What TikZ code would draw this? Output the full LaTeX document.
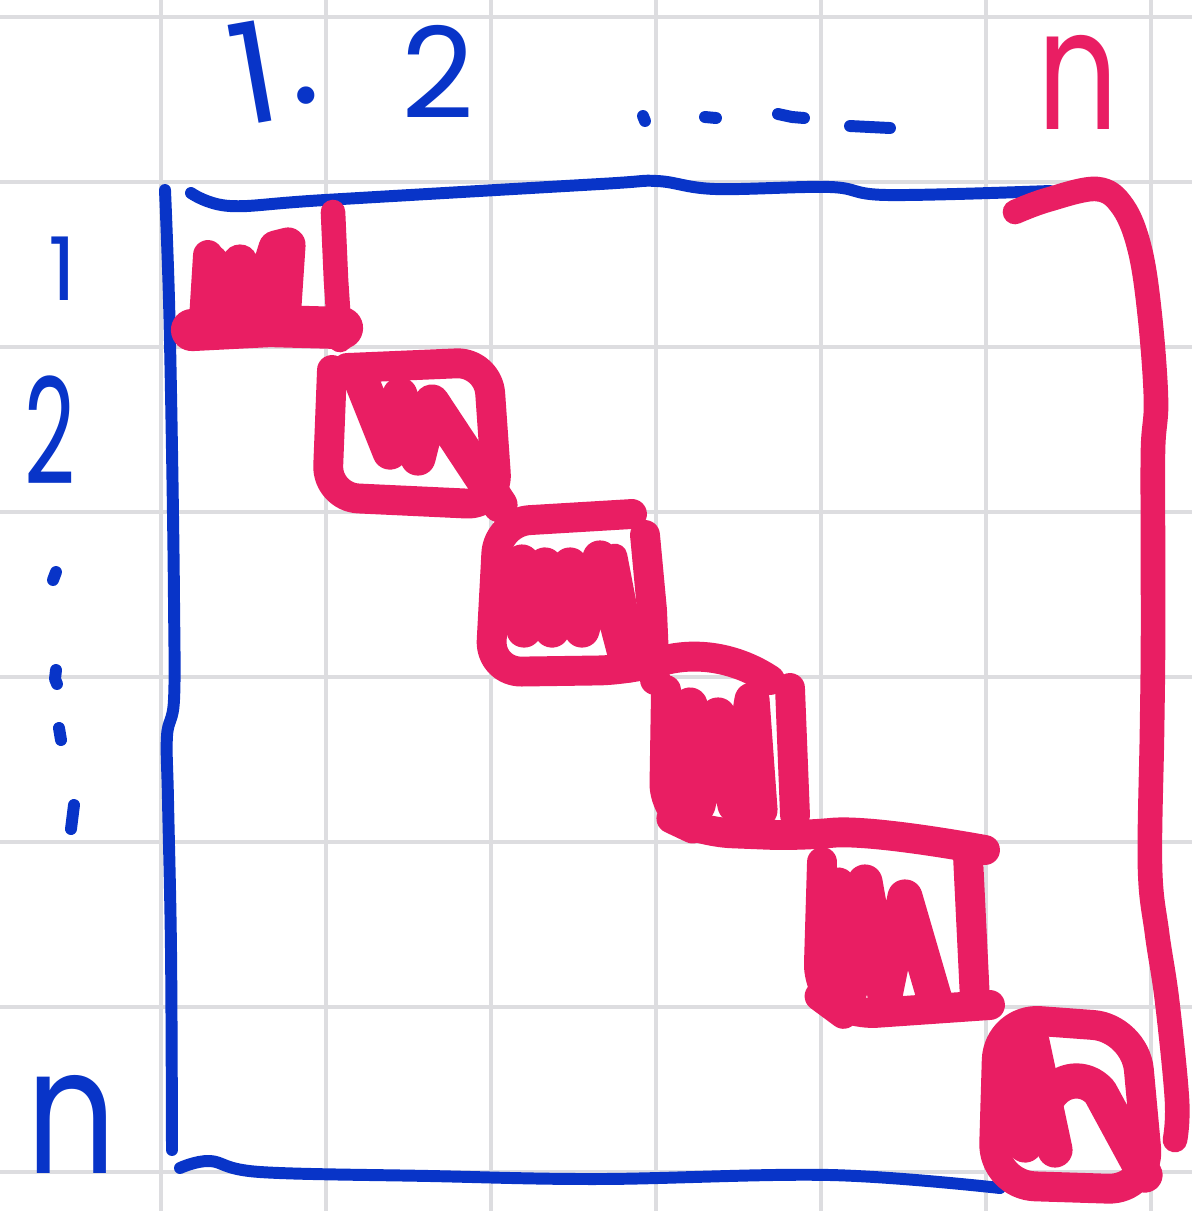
\documentclass[tikz,border=0pt]{standalone}
\usepackage{fontspec}
\setmainfont{Poppins}
\definecolor{inkblue}{RGB}{8,52,200}
\definecolor{inkpink}{RGB}{233,30,99}
\definecolor{gridgray}{RGB}{221,221,224}
\begin{document}
\begin{tikzpicture}[x=0.01cm,y=-0.01cm,
  gridline/.style={draw=gridgray,line width=0.9pt},
  blueink/.style={draw=inkblue,line width=3.4pt,line cap=round,line join=round},
  pinkink/.style={draw=inkpink,line width=8.5pt,line cap=round,line join=round},
  scrib/.style={draw=inkpink,line width=10pt,line cap=round,line join=round},
  lbl/.style={inner sep=0pt,text=inkblue}]
\useasboundingbox (0,0) rectangle (1192,1211);
\fill[white] (0,0) rectangle (1192,1211);
\foreach \gx in {161,326,...,1151} \draw[gridline] (\gx,0) -- (\gx,1211);
\foreach \gy in {17,182,...,1172} \draw[gridline] (0,\gy) -- (1192,\gy);

% column labels
\node[lbl,font=\fontsize{40}{40}\selectfont,rotate=10] (c1) at (254,73) {1};
\node[lbl,font=\fontsize{40}{40}\selectfont] (cdot) at (306,96) {.};
\node[lbl,font=\fontsize{36}{36}\selectfont] (c2) at (438,72) {2};
\node[lbl,text=inkpink,font=\fontsize{48}{48}\selectfont,xscale=0.75] (cn) at (1078,82) {n};
% row labels
\node[lbl,font=\fontsize{25}{25}\selectfont] (r1) at (63,269) {1};
\node[lbl,font=\fontsize{42}{42}\selectfont,xscale=0.6] (r2) at (50,430) {2};
\node[lbl,font=\fontsize{50}{50}\selectfont,xscale=0.8] (rn) at (72,1124) {n};

% ellipsis marks
\draw[blueink] (643,116) -- (645,121);
\draw[blueink] (705,117) -- (716,118);
\draw[blueink] (778,114) -- (792,117) -- (804,118);
\draw[blueink] (850,126) -- (890,128);
\draw[blueink] (56,572) -- (53,580);
\draw[blueink] (56,670) -- (55,679) -- (57,684);
\draw[blueink] (59,728) -- (61,740);
\draw[blueink] (74,805) -- (71,829);

% blue matrix strokes
\draw[blueink] plot[smooth,tension=0.6] coordinates {(165,190) (169,300) (172,450) (174,600) (174,700) (167,736) (168,800) (171,950) (172,1150)};
\draw[blueink] plot[smooth,tension=0.6] coordinates {(191,193) (230,206) (325,200) (600,184) (657,181) (715,189) (830,187) (887,195) (1050,191)};
\draw[blueink] plot[smooth,tension=0.6] coordinates {(180,1168) (210,1161) (260,1172) (430,1176) (600,1179) (830,1175) (1000,1188)};

% pink right bracket
\draw[pinkink,line width=7pt] plot[smooth,tension=0.6] coordinates {(1015,212) (1047,200) (1097,189) (1123,207) (1140,250) (1150,317) (1156,400) (1153,450) (1153,550) (1153,650) (1152,733) (1150,867) (1157,933) (1167,1000) (1177,1100) (1175,1140)};

% box 1
\draw[pinkink] (208,255) -- (203,335);
\draw[pinkink,line width=12pt] (192,330) -- (270,326) -- (342,328);
\draw[pinkink,line width=7pt] (333,212) -- (336,280) -- (340,340);
\draw[scrib] (211,262) -- (226,298) -- (240,262) -- (258,306) -- (276,248) -- (288,245) -- (284,305);

% box 2
\draw[pinkink,rounded corners=9pt] (347,368) -- (488,362) -- (498,505) -- (327,497) -- (332,370);
\draw[scrib] (362,382) -- (390,452) -- (400,395) -- (418,458) -- (432,402) -- (500,505);

% box 3
\draw[pinkink,rounded corners=9pt] (632,514) -- (498,522) -- (490,672) -- (630,670) .. controls (700,650) and (740,660) .. (770,680);
\draw[pinkink] (645,535) -- (652,610) -- (655,680);
\draw[scrib] (522,562) -- (524,630) -- (545,565) -- (552,630) -- (570,565) -- (582,630) -- (600,558) -- (628,665);
\draw[scrib,line width=7pt] (615,556) -- (635,660);

% box 4
\draw[pinkink,rounded corners=9pt] (666,690) -- (664,815) -- (700,832) -- (800,836) .. controls (860,830) and (930,840) .. (985,850);
\draw[pinkink] (790,688) -- (795,815);
\draw[scrib] (690,705) -- (698,805) -- (718,715) -- (735,805) -- (752,700) -- (760,810);

% box 5
\draw[pinkink,rounded corners=9pt] (822,862) -- (818,995) -- (845,1015) -- (990,1005);
\draw[pinkink] (968,856) -- (975,1000);
\draw[scrib] (838,885) -- (850,990) -- (865,882) -- (885,995) -- (905,897) -- (935,1000);

% box 6
\draw[pinkink,rounded corners=12pt] (998,1018) -- (1135,1028) -- (1150,1190) -- (993,1185) -- cycle;
\draw[scrib] (1016,1035) -- (1025,1145);
\draw[scrib] (1032,1042) -- (1055,1150);
\draw[scrib] (1048,1098) .. controls (1060,1078) and (1085,1075) .. (1100,1092) -- (1145,1175);
\end{tikzpicture}
\end{document}
